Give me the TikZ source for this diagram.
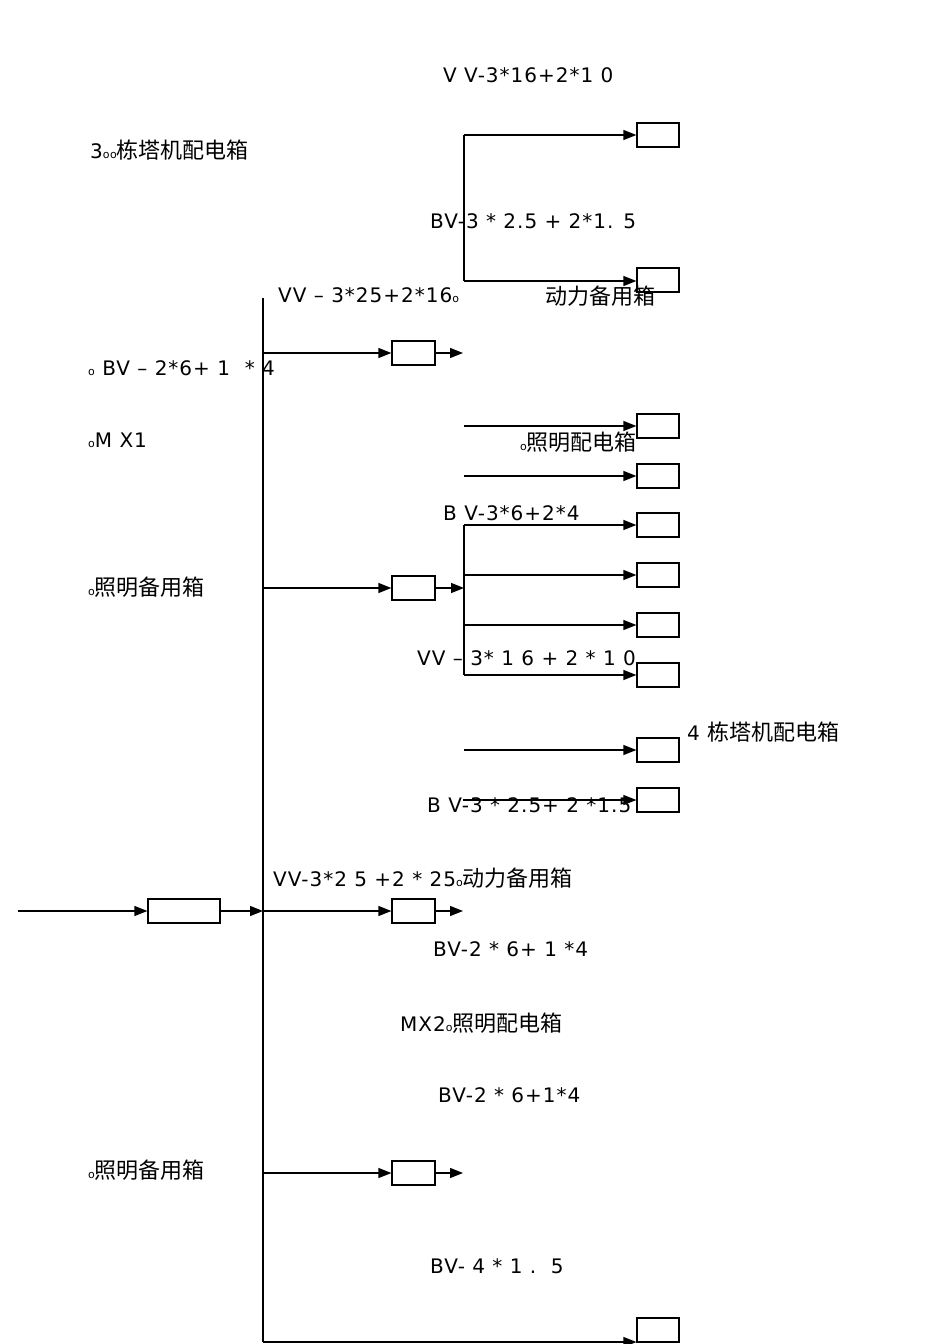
\documentclass[tikz,border=0pt]{standalone}
\usepackage{fontspec}
\setmainfont[LetterSpace=5]{DejaVu Sans}
\newfontfamily\cjk{Noto Sans CJK SC}
\usetikzlibrary{arrows.meta}
\newcommand{\dd}{{\fontsize{11}{11}\selectfont o}}
\newcommand{\zh}[1]{{\cjk\fontsize{22}{22}\selectfont #1}}
\begin{document}
\begin{tikzpicture}[x=1pt,y=-1pt,
  box/.style={draw,line width=1.2pt,minimum width=43pt,minimum height=24pt,inner sep=0pt},
  lbl/.style={anchor=west,inner sep=0pt,font=\fontsize{20}{20}\selectfont},
  arr/.style={-{Triangle[length=13pt,width=10pt]},line width=1.2pt},
  ln/.style={line width=1.2pt}]
\useasboundingbox (0,0) rectangle (950,1344);
\node[box] (b1) at (413.5,353) {};
\node[box] (b2) at (413.5,588) {};
\node[box] (b3) at (413.5,911) {};
\node[box] (b4) at (413.5,1173) {};
\node[box,minimum width=72pt] (m) at (184,911) {};
\foreach \n/\y in {r1/135,r2/280,r3/426,r4/476,r5/525,r6/575,r7/625,r8/675,r9/750,r10/800,r11/1330}
  \node[box,minimum width=42pt] (\n) at (658,\y) {};
\coordinate (in) at (18,911);
\coordinate (bt) at (263,298);
\coordinate (bb) at (263,1342);
\coordinate (j3) at (263,911);
\foreach \n/\y in {1/353,2/588,4/1173} \coordinate (j\n) at (263,\y);
\foreach \n/\y in {1/353,2/588,3/911,4/1173} \coordinate (o\n) at (463,\y);
\coordinate (g1t) at (464,135); \coordinate (g1b) at (464,281);
\coordinate (g2t) at (464,525); \coordinate (g2b) at (464,675);
\coordinate (g2m) at (464,588);
\coordinate (s3) at (464,426); \coordinate (s4) at (464,476);
\coordinate (s6) at (464,575); \coordinate (s7) at (464,625);
\coordinate (s9) at (464,750); \coordinate (s10) at (463,800);
\draw[ln] (bt) -- (bb);
\draw[arr] (in) -- (m.west);
\draw[arr] (m.east) -- (j3);
\draw[arr] (j1) -- (b1.west); \draw[arr] (b1.east) -- (o1);
\draw[arr] (j2) -- (b2.west); \draw[arr] (b2.east) -- (g2m);
\draw[arr] (j3) -- (b3.west); \draw[arr] (b3.east) -- (o3);
\draw[arr] (j4) -- (b4.west); \draw[arr] (b4.east) -- (o4);
\draw[arr] (bb) -- (r11.west |- bb);
\draw[ln] (g1t) -- (g1b);
\draw[arr] (g1t) -- (r1.west);
\draw[arr] (g1b) -- (r2.west |- g1b);
\draw[arr] (s3) -- (r3.west);
\draw[arr] (s4) -- (r4.west);
\draw[ln] (g2t) -- (g2b);
\draw[arr] (g2t) -- (r5.west);
\draw[arr] (s6) -- (r6.west);
\draw[arr] (s7) -- (r7.west);
\draw[arr] (g2b) -- (r8.west);
\draw[arr] (s9) -- (r9.west);
\draw[arr] (s10) -- (r10.west);
\node[lbl] (t1) at (443,75) {V V-3*16+2*1 0};
\node[lbl] (t2) at (90,150) {3\dd\dd\zh{栋塔机配电箱}};
\node[lbl] (t3) at (430,221) {BV-3 * 2.5 + 2*1. 5};
\node[lbl] (t4) at (278,295) {VV – 3*25+2*16\dd};
\node[lbl] (t5) at (545,296) {\zh{动力备用箱}};
\node[lbl] (t6) at (88,368) {\dd{} BV – 2*6+ 1 \ * 4};
\node[lbl] (t7) at (88,440) {\dd M X1};
\node[lbl] (t8) at (520,442) {\dd\zh{照明配电箱}};
\node[lbl] (t9) at (443,513) {B V-3*6+2*4};
\node[lbl] (t10) at (88,587) {\dd\zh{照明备用箱}};
\node[lbl] (t11) at (417,658) {VV – 3* 1 6 + 2 * 1 0};
\node[lbl] (t12) at (687,732) {4 \zh{栋塔机配电箱}};
\node[lbl] (t13) at (427,805) {B V-3 * 2.5+ 2 *1.5};
\node[lbl] (t14) at (273,878) {VV-3*2 5 +2 * 25\dd\zh{动力备用箱}};
\node[lbl] (t15) at (433,949) {BV-2 * 6+ 1 *4};
\node[lbl] (t16) at (400,1023) {MX2\dd\zh{照明配电箱}};
\node[lbl] (t17) at (438,1095) {BV-2 * 6+1*4};
\node[lbl] (t18) at (88,1170) {\dd\zh{照明备用箱}};
\node[lbl] (t19) at (430,1266) {BV- 4 * 1 .\ \ 5};
\end{tikzpicture}
\end{document}
